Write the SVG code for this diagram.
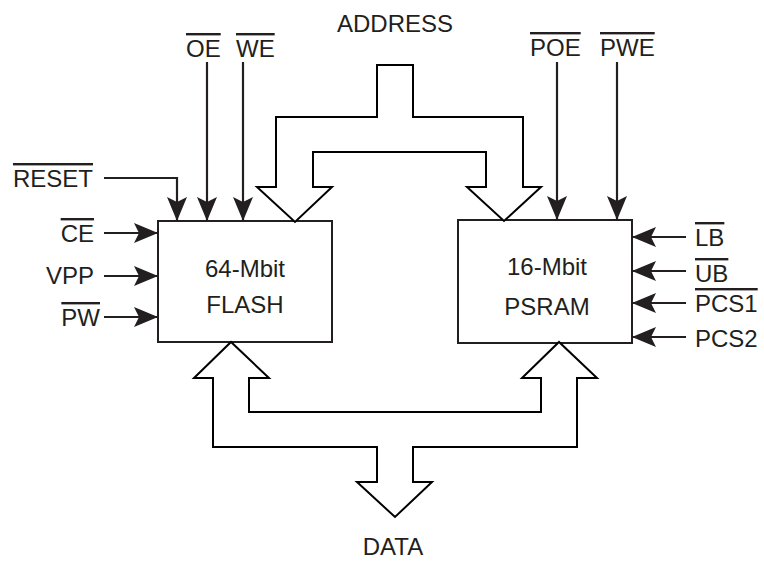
<svg xmlns="http://www.w3.org/2000/svg" width="764" height="561" viewBox="0 0 764 561">
<style>
text{font-family:"Liberation Sans",Arial,sans-serif;font-size:24px;fill:#231f20}
.ol{text-decoration:overline}
.box{fill:#fff;stroke:#231f20;stroke-width:2}
.bus{fill:#fff;stroke:#000;stroke-width:2;stroke-linejoin:miter}
.sig{fill:none;stroke:#231f20;stroke-width:2.2;marker-end:url(#ah)}
</style>
<defs>
<marker id="ah" viewBox="0 0 24 20" refX="24" refY="10" markerWidth="24" markerHeight="20" markerUnits="userSpaceOnUse" orient="auto">
<path d="M0,0 L24,10 L0,20 L5,10 Z" fill="#231f20"/>
</marker>
</defs>
<rect width="764" height="561" fill="#fff"/>
<g id="flash">
<rect class="box" x="158" y="221" width="174" height="121"/>
<text x="245" y="277" text-anchor="middle">64-Mbit</text>
<text x="245" y="313" text-anchor="middle">FLASH</text>
</g>
<g id="psram">
<rect class="box" x="458" y="220" width="174" height="123"/>
<text x="547" y="275" text-anchor="middle">16-Mbit</text>
<text x="547" y="315" text-anchor="middle">PSRAM</text>
</g>
<g id="address">
<polygon class="bus" points="377,65 413,65 413,117 523,117 523,187 541,187 504,221 467,187 486,187 486,152 313,152 313,187 332,187 295,222 257,187 276,187 276,117 377,117"/>
<text x="395" y="32" text-anchor="middle">ADDRESS</text>
</g>
<g id="data">
<polygon class="bus" points="413,482 432,482 395,517 357,482 377,482 377,447 213,447 213,378 194,378 231,342 269,378 249,378 249,412 541,412 541,378 522,378 559,342 597,378 577,378 577,447 413,447"/>
<text x="393" y="555" text-anchor="middle">DATA</text>
</g>
<g id="labels">
<text class="ol" x="93" y="187" text-anchor="end">RESET</text>
<text class="ol" x="94" y="242" text-anchor="end">CE</text>
<text x="94" y="284" text-anchor="end">VPP</text>
<text class="ol" x="100" y="326" text-anchor="end">PW</text>
<text class="ol" x="186" y="57">OE</text>
<text class="ol" x="236" y="57">WE</text>
<text class="ol" x="530" y="56">POE</text>
<text class="ol" x="600" y="56">PWE</text>
<text class="ol" x="695" y="246">LB</text>
<text class="ol" x="695" y="282">UB</text>
<text class="ol" x="695" y="312">PCS1</text>
<text x="695" y="347">PCS2</text>
</g>
<g id="connectors">
<polyline class="sig" points="104,178 177,178 177,221"/>
<line class="sig" x1="104" y1="233" x2="158" y2="233"/>
<line class="sig" x1="104" y1="276" x2="158" y2="276"/>
<line class="sig" x1="104" y1="317" x2="158" y2="317"/>
<line class="sig" x1="207" y1="62" x2="207" y2="221"/>
<line class="sig" x1="243" y1="62" x2="243" y2="221"/>
<line class="sig" x1="557" y1="62" x2="557" y2="220"/>
<line class="sig" x1="617" y1="62" x2="617" y2="220"/>
<line class="sig" x1="686" y1="237" x2="632" y2="237"/>
<line class="sig" x1="686" y1="271" x2="632" y2="271"/>
<line class="sig" x1="686" y1="303" x2="632" y2="303"/>
<line class="sig" x1="686" y1="337" x2="632" y2="337"/>
</g>
</svg>
